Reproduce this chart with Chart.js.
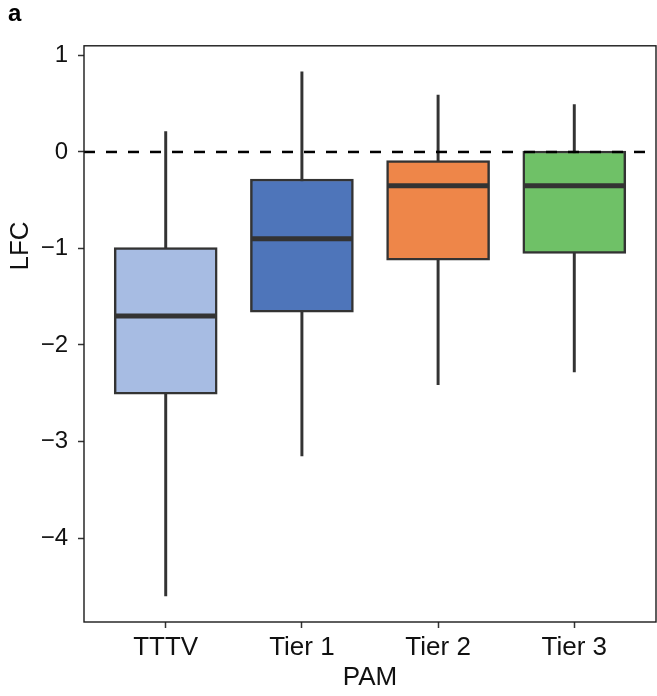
<!DOCTYPE html>
<html>
<head>
<meta charset="utf-8">
<script src="https://cdn.jsdelivr.net/npm/chart.js@4"></script>
<style>
  body { margin: 0; background: #fff; }
  canvas { display: block; }
</style>
</head>
<body>
<canvas id="grafico" width="657" height="696"></canvas>
<script>
// datos
const categorias = ["TTTV", "Tier 1", "Tier 2", "Tier 3"];
const bigoteMin = [-4.60, -3.15, -2.41, -2.28];
const q1 = [-2.51, -1.66, -1.12, -1.05];
const mediana = [-1.70, -0.90, -0.35, -0.35];
const q3 = [-0.99, -0.28, -0.09, 0.01];
const bigoteMax = [0.21, 0.83, 0.59, 0.49];
const yTicks = [1, 0, -1, -2, -3, -4];

const colores = ["#A7BCE3", "#4E75BA", "#EE8649", "#6FC167"];
const gris = "#333333";
const fuente = "'Liberation Sans', Arial, Helvetica, sans-serif";

// medianas, linea de referencia en 0, marco y titulo LFC
const extras = {
  id: "extras",
  afterDatasetsDraw(chart) {
    const { ctx, chartArea, scales } = chart;
    const x = scales.x, y = scales.y;
    const mitad = (x.getPixelForValue(1.375) - x.getPixelForValue(1));

    ctx.save();
    ctx.strokeStyle = gris;
    ctx.lineWidth = 5;
    mediana.forEach((m, i) => {
      const cx = x.getPixelForValue(i + 1);
      const py = y.getPixelForValue(m);
      ctx.beginPath();
      ctx.moveTo(cx - mitad + 1, py);
      ctx.lineTo(cx + mitad - 1, py);
      ctx.stroke();
    });

    const y0 = y.getPixelForValue(0);
    ctx.strokeStyle = "#000";
    ctx.lineWidth = 2.5;
    ctx.setLineDash([11, 11]);
    ctx.beginPath();
    ctx.moveTo(chartArea.left, y0);
    ctx.lineTo(chartArea.right, y0);
    ctx.stroke();
    ctx.setLineDash([]);

    ctx.strokeStyle = "#1a1a1a";
    ctx.lineWidth = 1.4;
    ctx.strokeRect(chartArea.left, chartArea.top, chartArea.right - chartArea.left, chartArea.bottom - chartArea.top);

    ctx.translate(21, 246);
    ctx.rotate(-Math.PI / 2);
    ctx.fillStyle = "#111";
    ctx.font = "26px " + fuente;
    ctx.textAlign = "center";
    ctx.textBaseline = "middle";
    ctx.fillText("LFC", 0, 0);
    ctx.restore();
  }
};

const ctx = document.getElementById("grafico").getContext("2d");
new Chart(ctx, {
  type: "bar",
  data: {
    datasets: [
      {
        label: "caja",
        data: categorias.map((c, i) => ({ x: i + 1, y: [q1[i], q3[i]] })),
        backgroundColor: colores,
        borderColor: gris,
        borderWidth: 2.5,
        borderSkipped: false,
        barThickness: 103,
        grouped: false,
      },
      {
        label: "bigote",
        data: categorias.map((c, i) => ({ x: i + 1, y: [bigoteMin[i], bigoteMax[i]] })),
        backgroundColor: gris,
        borderWidth: 0,
        barThickness: 2.3,
        grouped: false,
      },
    ],
  },
  options: {
    responsive: false,
    animation: false,
    layout: { padding: { left: 8, right: 1, top: 0, bottom: 0 } },
    plugins: {
      legend: { display: false },
      tooltip: { enabled: false },
      title: {
        display: true,
        text: "a",
        align: "start",
        color: "#000",
        font: { family: fuente, size: 24, weight: "bold" },
        padding: { top: 0, bottom: 17 },
      },
    },
    scales: {
      x: {
        type: "linear",
        min: 0.4,
        max: 4.6,
        offset: false,
        afterFit: (s) => { s.height = 74; },
        afterBuildTicks: (s) => { s.ticks = categorias.map((c, i) => ({ value: i + 1 })); },
        ticks: {
          callback: (v) => categorias[v - 1] || "",
          color: "#111",
          font: { family: fuente, size: 26 },
          padding: 4,
          maxRotation: 0,
          autoSkip: false,
        },
        grid: { offset: false, drawOnChartArea: false, drawTicks: true, tickLength: 6, tickWidth: 1.5, tickColor: gris },
        border: { display: false },
        title: {
          display: true,
          text: "PAM",
          color: "#111",
          font: { family: fuente, size: 26 },
          padding: { top: 0, bottom: 3 },
        },
      },
      y: {
        min: -4.87,
        max: 1.10,
        afterFit: (s) => { s.width = 76; },
        afterBuildTicks: (s) => { s.ticks = yTicks.map((v) => ({ value: v })); },
        ticks: {
          callback: (v) => (v < 0 ? "\u2212" + Math.abs(v) : String(v)),
          color: "#111",
          font: { family: fuente, size: 24 },
          padding: 10,
        },
        grid: { drawOnChartArea: false, drawTicks: true, tickLength: 6, tickWidth: 1.5, tickColor: gris },
        border: { display: false },
      },
    },
  },
  plugins: [extras],
});
</script>
</body>
</html>
